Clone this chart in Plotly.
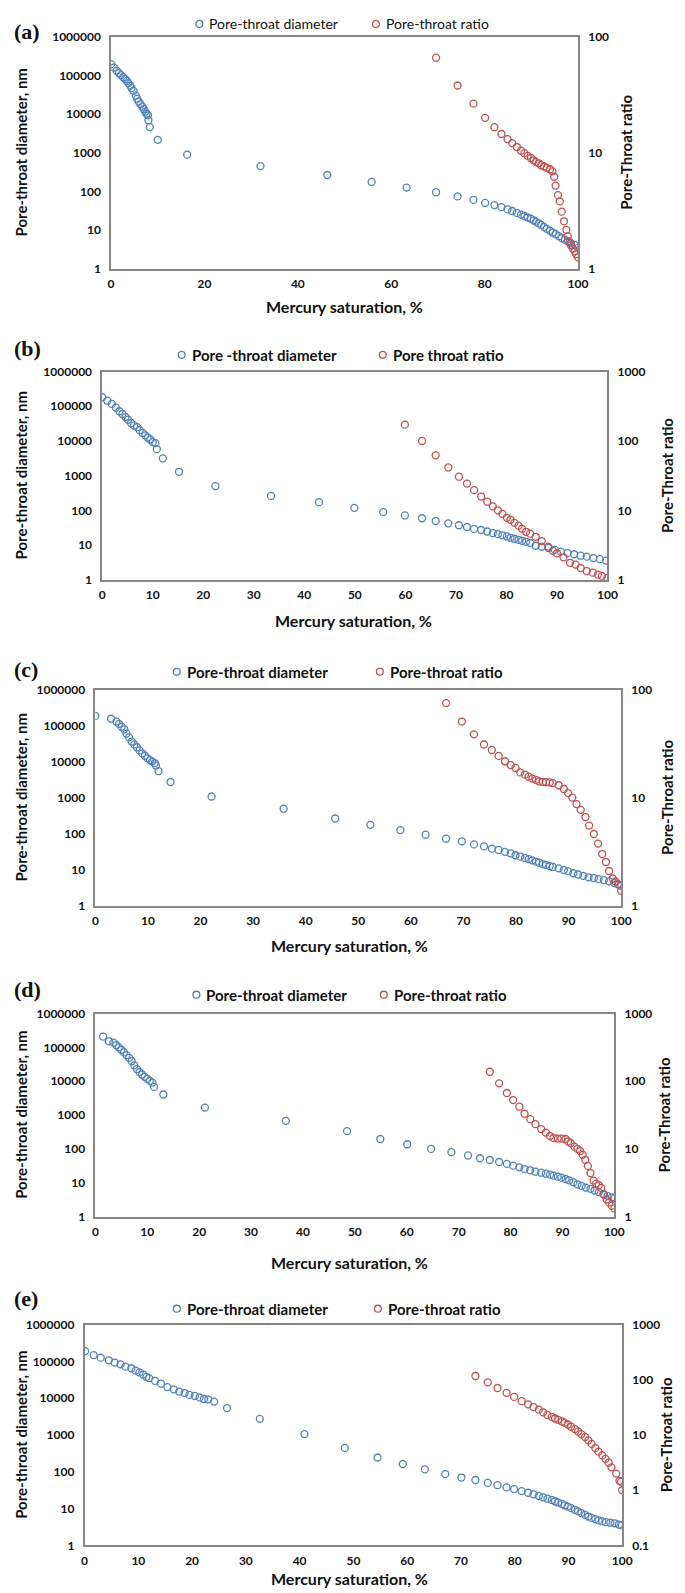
import plotly.graph_objects as go

# ---------------- data ----------------
# Panel (a)
sat_a = [0, 0.6, 1.2, 1.7, 2.1, 2.6, 3.0, 3.4, 3.7, 4.1, 4.4, 4.8, 5.3, 5.6, 5.9, 6.3, 6.7, 7.0, 7.3, 7.6,
         7.9, 8.0, 8.3, 10.0, 16.3, 32.0, 46.3, 55.8, 63.3, 69.6, 74.2, 77.6, 80.1, 82.1, 83.6, 84.9, 85.9,
         86.9, 87.8, 88.5, 89.2, 89.9, 90.5, 91.0, 91.6, 92.1, 92.7, 93.3, 94.0, 94.6, 95.2, 95.9, 96.5,
         97.2, 97.8, 98.5, 99.3, 100]
dia_a = [196000, 160000, 132000, 115000, 102000, 90000, 81000, 72000, 63000, 55000, 47000, 40000, 30000,
         25000, 21000, 18000, 15500, 13500, 11500, 10200, 9300, 6900, 4600, 2150, 890, 450, 265, 175, 125,
         95, 74, 60, 50, 44, 39, 34, 31, 27.6, 25, 23, 21, 19.5, 17.8, 16.2, 14.8, 13.5, 12.0, 10.7, 9.5,
         8.5, 7.8, 6.9, 6.2, 5.6, 5.1, 4.5, 4.1, 3.5]
sat_a_r = [69.6, 74.2, 77.6, 80.1, 82.1, 83.6, 84.9, 85.9, 86.9, 87.8, 88.5, 89.2, 89.9, 90.5, 91.0, 91.6,
           92.1, 92.7, 93.3, 94.0, 94.5, 94.9, 95.2, 95.7, 96.1, 96.5, 97.0, 97.5, 97.8, 98.2, 98.5, 98.9,
           99.3, 99.6, 100]
ratio_a = [66, 38, 26.5, 20, 16.6, 14.5, 13.1, 12.1, 11.2, 10.4, 9.9, 9.4, 9.0, 8.6, 8.3, 8.1, 7.8, 7.6,
           7.4, 7.2, 6.9, 6.2, 5.2, 4.3, 3.8, 3.1, 2.56, 2.16, 1.9, 1.7, 1.59, 1.49, 1.41, 1.33, 1.25]

# Panel (b)
sat_b = [0, 1.0, 1.9, 2.7, 3.4, 4.0, 4.6, 5.1, 5.7, 6.3, 6.9, 7.4, 8.0, 8.5, 9.0, 9.5, 10.0, 10.5, 10.8,
         12.0, 15.2, 22.4, 33.4, 42.9, 49.9, 55.6, 59.9, 63.3, 66.0, 68.5, 70.6, 72.2, 73.6, 75.0, 76.2,
         77.3, 78.3, 79.2, 80.1, 80.8, 81.6, 82.4, 83.1, 83.9, 84.7, 85.8, 87.0, 88.3, 89.6, 90.8, 92.1,
         93.4, 94.7, 95.9, 97.2, 98.5, 99.7]
dia_b = [182000, 145000, 117000, 91000, 72000, 60000, 49000, 41000, 33000, 28000, 25000, 20400, 17000,
         14500, 12600, 11000, 9300, 8700, 5800, 3150, 1290, 500, 260, 172, 118, 89, 71, 59, 49, 42, 37, 33,
         29, 27, 24.5, 22, 20.5, 19, 17.6, 16.1, 15.1, 14.1, 13.2, 12.4, 11.4, 9.5, 8.9, 8.2, 7.2, 6.4, 5.8,
         5.4, 4.9, 4.6, 4.2, 3.9, 3.55]
sat_b_r = [59.9, 63.3, 66.0, 68.5, 70.6, 72.2, 73.6, 75.0, 76.2, 77.3, 78.3, 79.2, 80.1, 80.8, 81.6, 82.4,
           83.1, 83.9, 84.7, 85.8, 87.0, 88.3, 89.2, 90.0, 91.3, 92.6, 93.7, 94.7, 95.9, 97.1, 98.1, 98.9, 100]
ratio_b = [172, 100, 62, 41.5, 30.5, 24.3, 19.5, 15.8, 13.3, 11.4, 10.0, 8.9, 7.8, 7.3, 6.6, 6.0, 5.4, 4.9,
           4.6, 4.15, 3.6, 3.0, 2.6, 2.4, 2.1, 1.75, 1.65, 1.47, 1.33, 1.26, 1.18, 1.13, 1.06]

# Panel (c)
sat_c = [0, 3.0, 4.0, 4.5, 5.0, 5.5, 5.9, 6.4, 6.9, 7.4, 7.9, 8.4, 8.9, 9.4, 9.9, 10.4, 10.8, 11.3, 11.5,
         12.0, 14.3, 22.1, 35.8, 45.6, 52.3, 58.0, 62.8, 66.7, 69.7, 72.0, 73.9, 75.4, 76.7, 77.9, 79.0,
         79.9, 80.8, 81.7, 82.4, 83.1, 83.8, 84.4, 85.1, 85.7, 86.4, 87.0, 88.1, 89.1, 89.9, 90.9, 91.8,
         92.8, 93.8, 94.8, 95.7, 96.7, 97.7, 98.7, 99.5, 100]
dia_c = [186000, 155000, 129000, 112000, 93000, 79000, 60000, 47000, 36000, 30000, 25000, 20400, 17000,
         14500, 12300, 11000, 10000, 9100, 7800, 5400, 2700, 1070, 490, 262, 175, 125, 93, 72, 61, 50, 44, 38,
         35, 31, 28, 25, 23, 21, 19.5, 18, 16.6, 15.5, 14.2, 13.4, 12.5, 11.8, 10.8, 9.7, 8.9, 7.9, 7.3, 6.7,
         6.1, 5.8, 5.4, 5.1, 4.7, 4.2, 3.8, 3.55]
sat_c_r = [66.7, 69.7, 72.0, 73.9, 75.4, 76.7, 77.9, 79.0, 79.9, 80.8, 81.7, 82.4, 83.1, 83.8, 84.4, 85.1,
           85.7, 86.4, 87.0, 88.1, 89.1, 89.9, 90.7, 91.5, 92.3, 93.2, 93.9, 94.8, 95.6, 96.4, 97.1, 97.7,
           98.4, 98.9, 99.4, 100]
ratio_c = [75, 50.6, 38.5, 31, 27.6, 24.3, 21.7, 20, 18.8, 17.1, 16.3, 15.6, 15.0, 14.6, 14.1, 14.0, 13.9,
           13.8, 13.6, 13.0, 12.0, 11.0, 10.0, 8.7, 7.7, 6.6, 5.5, 4.6, 3.75, 3.0, 2.53, 2.09, 1.78, 1.67,
           1.58, 1.37]

# Panel (d)
sat_d = [1.5, 2.6, 3.5, 4.0, 4.5, 5.0, 5.5, 6.0, 6.5, 7.0, 7.5, 8.0, 8.5, 9.0, 9.5, 10.0, 10.5, 11.0, 11.3,
         13.1, 21.1, 36.7, 48.5, 54.9, 60.1, 64.7, 68.6, 71.8, 74.1, 76.0, 77.8, 79.3, 80.5, 81.7, 82.7,
         83.8, 84.8, 85.9, 86.8, 87.6, 88.3, 89.1, 89.8, 90.6, 91.3, 92.1, 92.9, 93.7, 94.5, 95.4, 96.2,
         97.0, 97.9, 98.7, 99.5, 100]
dia_d = [209000, 151000, 138000, 117000, 100000, 85000, 71000, 59000, 49000, 39000, 29500, 23000, 18600,
         15800, 13500, 11700, 10200, 9100, 6800, 4050, 1660, 675, 335, 196, 137, 100, 80, 64, 53, 47, 41, 36,
         32, 28.5, 25.4, 23.3, 21.2, 19.8, 18.5, 17.3, 16.2, 15.1, 14.1, 12.9, 11.8, 10.3, 9.0, 8.1, 7.2,
         6.6, 5.9, 5.3, 4.7, 4.1, 3.7, 3.45]
sat_d_r = [76.0, 77.8, 79.3, 80.5, 81.7, 82.7, 83.8, 84.8, 85.9, 86.8, 87.6, 88.3, 89.1, 89.8, 90.6, 91.1,
           91.6, 92.3, 92.9, 93.4, 93.9, 94.4, 94.9, 95.4, 96.0, 96.5, 97.0, 97.5, 98.0, 98.5, 99.0, 99.5, 100]
ratio_d = [138, 93, 67, 52.7, 42, 33, 27.5, 23.2, 19.6, 17.4, 15.5, 14.5, 14.2, 14.2, 14.0, 12.9, 12.2,
           10.8, 10.0, 9.3, 8.2, 6.9, 5.6, 4.4, 3.4, 3.07, 2.9, 2.65, 2.1, 1.79, 1.62, 1.45, 1.32]

# Panel (e)
sat_e = [0.1, 1.7, 3.0, 4.5, 5.6, 6.7, 7.6, 8.7, 9.5, 10.2, 10.9, 11.5, 12.0, 13.1, 14.2, 15.4, 16.6, 17.6,
         18.6, 19.5, 20.5, 21.4, 22.2, 23.0, 24.1, 26.5, 32.6, 40.9, 48.4, 54.5, 59.2, 63.3, 67.1, 70.1,
         72.7, 75.0, 76.8, 78.5, 79.9, 81.3, 82.5, 83.5, 84.5, 85.3, 86.1, 86.9, 87.5, 88.1, 88.8, 89.3,
         89.9, 90.5, 91.2, 91.8, 92.4, 93.1, 93.7, 94.3, 95.0, 95.6, 96.3, 97.0, 97.8, 98.6, 99.4, 99.9]
dia_e = [190000, 148000, 126000, 107000, 93000, 83000, 72000, 65000, 56000, 50000, 44000, 38000, 35000,
         29500, 25000, 20000, 17400, 15100, 13800, 12300, 11500, 10500, 9500, 9300, 8100, 5400, 2750, 1060,
         447, 245, 163, 117, 87, 70, 60, 50, 43.5, 37.7, 34, 30, 27, 24.5, 22, 20.3, 18.6, 17.2, 15.9, 14.6,
         13.4, 12.3, 11.4, 10.3, 9.3, 8.4, 7.6, 6.8, 6.1, 5.6, 5.2, 4.8, 4.5, 4.3, 4.15, 4.0, 3.7, 3.5]
sat_e_r = [72.7, 75.0, 76.8, 78.5, 79.9, 81.3, 82.5, 83.5, 84.5, 85.3, 86.1, 86.9, 87.5, 88.1, 88.8, 89.3,
           89.9, 90.5, 91.2, 91.8, 92.4, 93.1, 93.7, 94.3, 95.0, 95.6, 96.3, 96.9, 97.5, 98.0, 98.9, 99.5,
           99.8, 100]
ratio_e = [117, 90, 71, 58, 49, 41, 36, 32, 28.8, 25.8, 23.1, 21.3, 19.9, 18.8, 17.6, 16.6, 15.5, 14.1,
           12.8, 11.6, 10.4, 9.2, 8.0, 6.9, 5.8, 5.0, 4.27, 3.7, 3.15, 2.6, 2.0, 1.48, 1.42, 1.0]

panel_labels = ["(a)", "(b)", "(c)", "(d)", "(e)"]
legend_dia = ["Pore-throat diameter", "Pore -throat diameter", "Pore-throat diameter",
              "Pore-throat diameter", "Pore-throat diameter"]
legend_ratio = ["Pore-throat ratio", "Pore throat ratio", "Pore-throat ratio",
                "Pore-throat ratio", "Pore-throat ratio"]
left_title = "Pore-throat diameter, nm"
right_title = "Pore-Throat ratio"
x_title = "Mercury saturation, %"
left_ticks = [1, 10, 100, 1000, 10000, 100000, 1000000]
right_ticks = [[1, 10, 100], [1, 10, 100, 1000], [1, 10, 100], [1, 10, 100, 1000], [0.1, 1, 10, 100, 1000]]
right_log_range = [[0, 2], [0, 3], [0, 2], [0, 3], [-1, 3]]
x_ticks = [list(range(0, 101, 20))] + [list(range(0, 101, 10))] * 4

series = [
    (sat_a, dia_a, sat_a_r, ratio_a),
    (sat_b, dia_b, sat_b_r, ratio_b),
    (sat_c, dia_c, sat_c_r, ratio_c),
    (sat_d, dia_d, sat_d_r, ratio_d),
    (sat_e, dia_e, sat_e_r, ratio_e),
]

# ---------------- layout geometry (pixels) ----------------
W, H = 685, 1593
# plot area: left, right, top, bottom
boxes = [(102, 578, 21, 255), (93, 608, 359, 569), (86, 622, 680, 898),
         (86, 615, 1007, 1212), (75, 623, 1321, 1544)]
label_y = [16, 336, 660, 983, 1295]
legend_y = [8, 342, 662, 988, 1305]
legend_blue_x = [192, 174, 169, 189, 169]
legend_red_x = [372, 379, 376, 380, 374]
right_title_x = [627, 668, 668, 666, 668]
xtitle_y = [293, 610, 938, 1258, 1577]
xtitle_x = [340, 349, 345, 345, 345]

BLUE = "#4F81BD"
RED = "#C0504D"
AXC = "#868686"
FONT = "Lato"

def fx(px):
    return px / W

def fy(py):
    return 1 - py / H

fig = go.Figure()
layout = {}
annotations = []
shapes = []

for i, (sd, dd, sr, rr) in enumerate(series):
    n = i + 1
    xa = "x" if n == 1 else f"x{n}"
    yl = f"y{2*n-1}" if n > 1 else "y"
    yr = f"y{2*n}"
    l, r, t, b = boxes[i]

    fig.add_trace(go.Scatter(x=sd, y=dd, mode="markers", xaxis=xa, yaxis=yl,
                             marker=dict(symbol="circle-open", size=7, color=BLUE, line=dict(width=1.3)),
                             showlegend=False))
    fig.add_trace(go.Scatter(x=sr, y=rr, mode="markers", xaxis=xa, yaxis=yr,
                             marker=dict(symbol="circle-open", size=7, color=RED, line=dict(width=1.3)),
                             showlegend=False))

    xkey = "xaxis" if n == 1 else f"xaxis{n}"
    ylkey = "yaxis" if n == 1 else f"yaxis{2*n-1}"
    yrkey = f"yaxis{2*n}"

    tickfont = dict(family=FONT, size=12, color="#111111", weight="bold")
    layout[xkey] = dict(domain=[fx(l), fx(r)], range=[0, 100], anchor=yl, tickvals=x_ticks[i],
                        showline=True, mirror=True, linecolor=AXC, linewidth=1.5, ticks="",
                        showgrid=False, zeroline=False, tickfont=tickfont, ticklabelstandoff=3)
    layout[ylkey] = dict(domain=[fy(b), fy(t)], type="log", range=[0, 6], anchor=xa,
                         tickvals=left_ticks, ticktext=[str(v) for v in left_ticks],
                         showline=True, linecolor=AXC, linewidth=1.5, ticks="", showgrid=False,
                         zeroline=False, tickfont=tickfont, ticklabelstandoff=6)
    rt = right_ticks[i]
    layout[yrkey] = dict(domain=[fy(b), fy(t)], type="log", range=right_log_range[i], anchor=xa,
                         overlaying=yl, side="right",
                         tickvals=rt, ticktext=[("%g" % v) for v in rt],
                         showline=True, linecolor=AXC, linewidth=1.5, ticks="", showgrid=False,
                         zeroline=False, tickfont=tickfont, ticklabelstandoff=6)

    # panel label
    annotations.append(dict(text=f"<b>{panel_labels[i]}</b>", xref="paper", yref="paper",
                            x=fx(1), y=fy(label_y[i]), xanchor="left", yanchor="middle", showarrow=False,
                            font=dict(family="Liberation Serif", size=22, color="#111111")))
    # axis titles
    cy = (t + b) / 2
    annotations.append(dict(text=f"<b>{left_title}</b>", xref="paper", yref="paper", x=fx(10), y=fy(cy),
                            xanchor="center", yanchor="middle", textangle=-90, showarrow=False,
                            font=dict(family=FONT, size=15, color="#111111")))
    annotations.append(dict(text=f"<b>{right_title}</b>", xref="paper", yref="paper",
                            x=fx(right_title_x[i]), y=fy(cy), xanchor="center", yanchor="middle",
                            textangle=-90, showarrow=False,
                            font=dict(family=FONT, size=15, color="#111111")))
    annotations.append(dict(text=f"<b>{x_title}</b>", xref="paper", yref="paper",
                            x=fx(xtitle_x[i]), y=fy(xtitle_y[i]), xanchor="center", yanchor="middle",
                            showarrow=False, font=dict(family=FONT, size=16, color="#111111")))
    # legend
    weight = "normal" if n == 1 else "bold"
    lsize = 14 if n == 1 else 15
    for cx, col, txt in ((legend_blue_x[i], BLUE, legend_dia[i]), (legend_red_x[i], RED, legend_ratio[i])):
        ly = legend_y[i]
        shapes.append(dict(type="circle", xref="paper", yref="paper",
                           x0=fx(cx - 3.5), x1=fx(cx + 3.5), y0=fy(ly + 3.5), y1=fy(ly - 3.5),
                           line=dict(color=col, width=1.3), fillcolor="rgba(0,0,0,0)"))
        annotations.append(dict(text=txt, xref="paper", yref="paper", x=fx(cx + 8), y=fy(ly),
                                xanchor="left", yanchor="middle", showarrow=False,
                                font=dict(family=FONT, size=lsize, color="#111111", weight=weight)))

fig.update_layout(
    width=W, height=H, margin=dict(l=0, r=0, t=0, b=0),
    paper_bgcolor="white", plot_bgcolor="white", showlegend=False,
    annotations=annotations, shapes=shapes, **layout,
)

fig.write_html("out.html")
